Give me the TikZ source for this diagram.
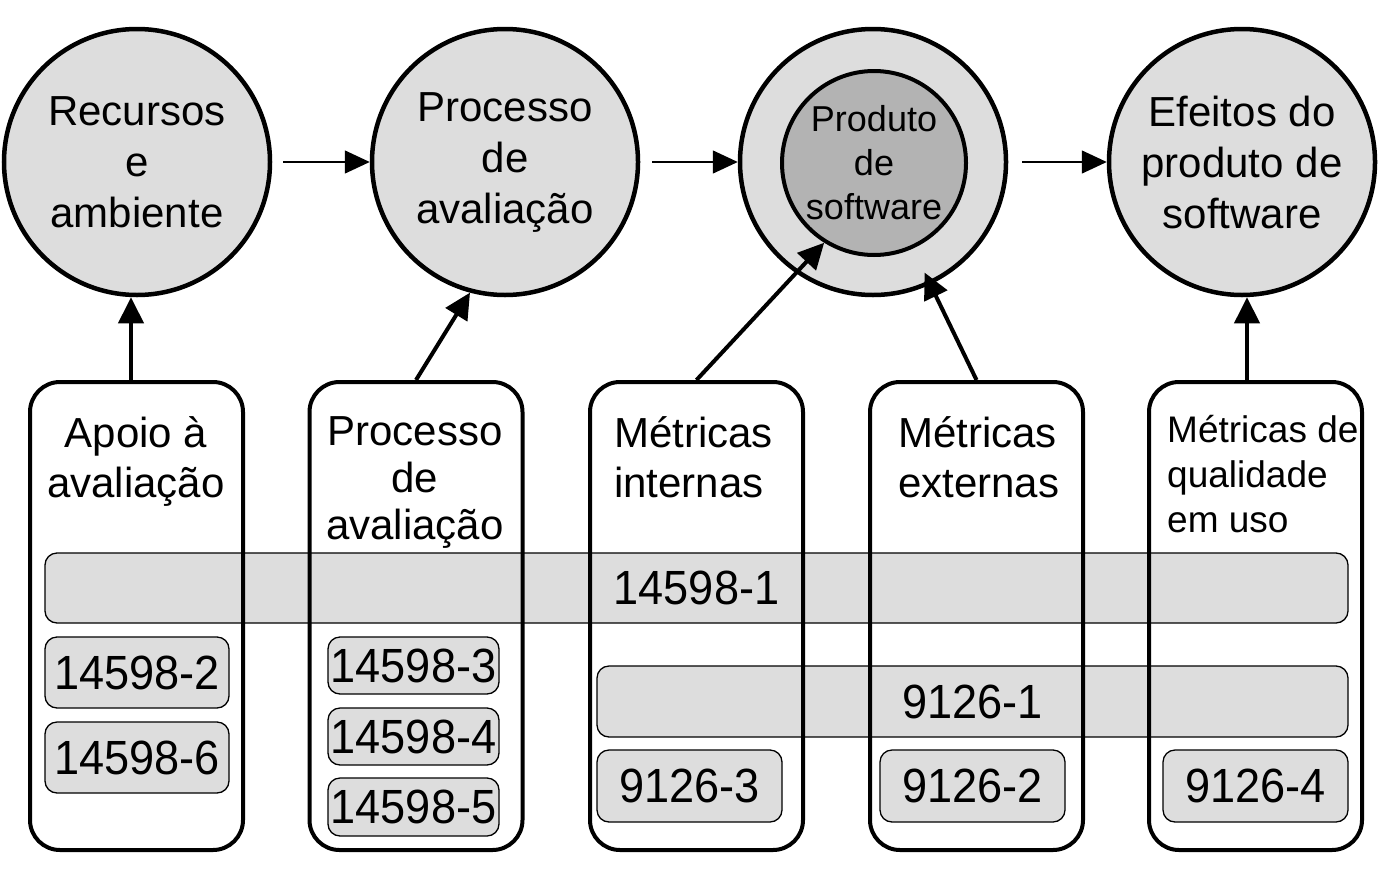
\documentclass[tikz,border=0pt]{standalone}
\usepackage{fontspec}
\setmainfont{Liberation Sans}
\newfontfamily\numfont[FakeStretch=0.94]{Liberation Sans}
\usetikzlibrary{arrows.meta}
\definecolor{lightfill}{RGB}{221,221,221}
\definecolor{darkfill}{RGB}{179,179,179}
\tikzset{
  bigcirc/.style={circle, draw=black, line width=4.5pt, fill=lightfill, minimum size=266pt, inner sep=0pt, align=center, font=\fontsize{42pt}{51pt}\selectfont},
  innercirc/.style={circle, draw=black, line width=4pt, fill=darkfill, minimum size=184pt, inner sep=0pt, align=center, font=\fontsize{36pt}{44pt}\selectfont},
  column/.style={rectangle, rounded corners=30pt, draw=black, line width=4pt, minimum width=213pt, minimum height=468pt, inner sep=0pt},
  band/.style={rectangle, rounded corners=12pt, draw=black, line width=1.3pt, fill=lightfill, inner sep=0pt, font=\numfont\fontsize{48pt}{50pt}\selectfont},
  numbox/.style={rectangle, rounded corners=12pt, draw=black, line width=1.3pt, fill=lightfill, inner sep=0pt, font=\numfont\fontsize{48pt}{50pt}\selectfont},
  heading/.style={inner sep=0pt, font=\fontsize{42pt}{50pt}\selectfont},
  thinarrow/.style={line width=1.5pt, -{Triangle[length=25pt,width=23pt]}},
  thickarrow/.style={line width=4pt, -{Triangle[length=26pt,width=25pt]}},
}
\begin{document}
\begin{tikzpicture}[x=1pt,y=-1pt]
\useasboundingbox (0,0) rectangle (1396,870);
% top circles
\node[bigcirc] (e1) at (137,162) {Recursos\\e\\ambiente};
\node[bigcirc] (e2) at (505,162) {Processo\\de\\avaliação};
\node[bigcirc] (outer) at (873,162) {};
\node[innercirc] (inner) at (874,163) {Produto\\de\\software};
\node[bigcirc] (e4) at (1242,162) {Efeitos do\\produto de\\software};
% horizontal arrows
\draw[thinarrow, shorten <=11pt] (e1.east) -- (e2.west);
\draw[thinarrow, shorten <=12pt] (e2.east) -- (outer.west);
\draw[thinarrow, shorten <=14pt] (outer.east) -- (e4.west);
% bands
\node[band, minimum width=1303pt, minimum height=70pt] (b1) at (696.5,588) {14598-1};
\node[band, minimum width=751pt, minimum height=71pt] (b2) at (972.5,701.5) {9126-1};
% columns
\node[column] (c1) at (136.5,616) {};
\node[column] (c2) at (416,616) {};
\node[column] (c3) at (696.5,616) {};
\node[column] (c4) at (976.5,616) {};
\node[column] (c5) at (1255.5,616) {};
% headings
\node[heading, anchor=north, align=center] (h1) at (136,416) {Apoio à\\avaliação};
\node[heading, anchor=north, align=center, font=\fontsize{42pt}{47pt}\selectfont] (h2) at (415,416) {Processo\\de\\avaliação};
\node[heading, anchor=north west, align=left] (h3) at (614,416) {Métricas\\internas};
\node[heading, anchor=north west, align=left] (h4) at (898,416) {Métricas\\externas};
\node[heading, anchor=north west, align=left, font=\fontsize{37pt}{45pt}\selectfont] (h5) at (1167,415) {Métricas de\\qualidade\\em uso};
% number boxes
\node[numbox, minimum width=184pt, minimum height=71pt] (n2) at (137,672.5) {14598-2};
\node[numbox, minimum width=184pt, minimum height=71pt] (n6) at (137,757.5) {14598-6};
\node[numbox, minimum width=171pt, minimum height=57pt] (n3) at (413.5,665.5) {14598-3};
\node[numbox, minimum width=171pt, minimum height=57pt] (n4) at (413.5,736.5) {14598-4};
\node[numbox, minimum width=171pt, minimum height=58pt] (n5) at (413.5,807) {14598-5};
\node[numbox, minimum width=185pt, minimum height=72pt] (m3) at (689.5,786) {9126-3};
\node[numbox, minimum width=185pt, minimum height=72pt] (m2) at (972.5,786) {9126-2};
\node[numbox, minimum width=185pt, minimum height=72pt] (m4) at (1255.5,786) {9126-4};
% vertical arrows
\draw[thickarrow] ([xshift=-6pt]e1.south |- c1.north) -- ([xshift=-6pt]e1.south);
\draw[thickarrow] (c2.north) -- (e2.-105);
\draw[thickarrow] (c3.north) -- (inner.-122);
\draw[thickarrow] (c4.north) -- ([shift={(-65:122pt)}]outer.center);
\draw[thickarrow] ([xshift=5pt]e4.south |- c5.north) -- ([xshift=5pt]e4.south);
\end{tikzpicture}
\end{document}
